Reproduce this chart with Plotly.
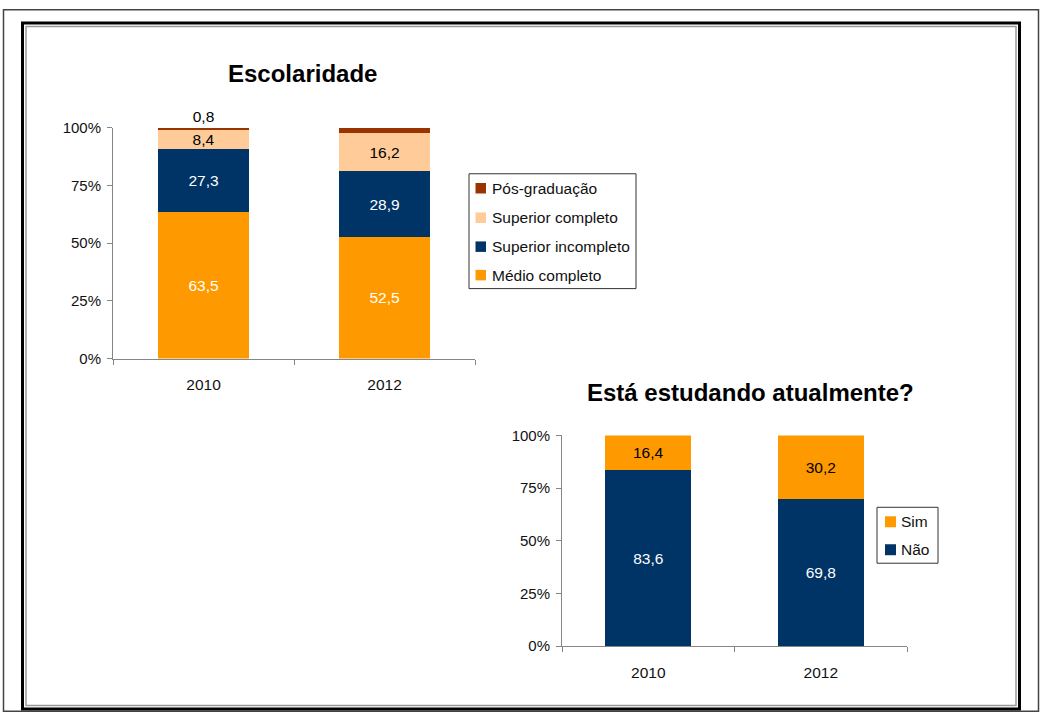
import plotly.graph_objects as go

W, H = 1041, 720
# the photographed page shows the figure squeezed into rows 8..712;
# target pixel rows are mapped back to figure rows through this.
SHOT_TOP, SHOT_H = 8, 704

# ---- data ----
anos = ["2010", "2012"]
medio_completo = [63.5, 52.5]
superior_incompleto = [27.3, 28.9]
superior_completo = [8.4, 16.2]
pos_graduacao = [0.8, 2.4]

estuda_nao = [83.6, 69.8]
estuda_sim = [16.4, 30.2]

y_ticks = [0, 25, 50, 75, 100]
y_tick_labels = ["0%", "25%", "50%", "75%", "100%"]

ORANGE = "#FF9900"
NAVY = "#003366"
PEACH = "#FFCC99"
BROWN = "#993300"
FONT = "Liberation Sans, Arial, sans-serif"


def fmt(vals):
    return [f"{v:.1f}".replace(".", ",") for v in vals]


def px_x(x):
    return x / W


def px_y(y):
    yf = (y - SHOT_TOP) * H / SHOT_H
    return (H - yf) / H


fig = go.Figure()

series1 = [
    ("Médio completo", medio_completo, ORANGE, "white", "inside"),
    ("Superior incompleto", superior_incompleto, NAVY, "white", "inside"),
    ("Superior completo", superior_completo, PEACH, "black", "inside"),
    ("Pós-graduação", pos_graduacao, BROWN, "black", "outside"),
]
for name, vals, col, tcol, tpos in series1:
    fig.add_trace(go.Bar(
        x=anos, y=vals, name=name, marker=dict(color=col, line=dict(width=0)),
        text=fmt(vals), textposition=tpos, insidetextanchor="middle",
        textfont=dict(color=tcol, size=15.5, family=FONT),
        outsidetextfont=dict(color="black", size=15.5, family=FONT),
        constraintext="none", cliponaxis=False, width=0.5,
        xaxis="x", yaxis="y", showlegend=False,
    ))

series2 = [
    ("Não", estuda_nao, NAVY, "white"),
    ("Sim", estuda_sim, ORANGE, "black"),
]
for name, vals, col, tcol in series2:
    fig.add_trace(go.Bar(
        x=anos, y=vals, name=name, marker=dict(color=col, line=dict(width=0)),
        text=fmt(vals), textposition="inside", insidetextanchor="middle",
        textfont=dict(color=tcol, size=15.5, family=FONT),
        constraintext="none", cliponaxis=False, width=0.5,
        xaxis="x2", yaxis="y2", showlegend=False,
    ))

axis_common = dict(
    showgrid=False, zeroline=False, showline=True, linecolor="#868686",
    linewidth=1, ticks="outside", ticklen=5, tickcolor="#868686",
    fixedrange=True,
)
xfont = dict(size=15.5, family=FONT, color="#111")
yfont = dict(size=15, family=FONT, color="#111")

shapes = [
    dict(type="rect", xref="paper", yref="paper", x0=px_x(3.5), x1=px_x(1038.5),
         y0=max(px_y(717.5), 0.001), y1=min(px_y(3.5), 0.999),
         line=dict(color="#444", width=1.5)),
    dict(type="rect", xref="paper", yref="paper", x0=px_x(22.5), x1=px_x(1019.5),
         y0=px_y(709), y1=px_y(22), line=dict(color="black", width=3)),
    dict(type="rect", xref="paper", yref="paper", x0=px_x(26), x1=px_x(1016),
         y0=px_y(705.5), y1=px_y(25.5), line=dict(color="#999", width=1.5)),
]
annotations = [
    dict(text="<b>Escolaridade</b>", x=px_x(302), y=px_y(73), xref="paper",
         yref="paper", showarrow=False, xanchor="center", yanchor="middle",
         font=dict(size=24, family=FONT, color="black")),
    dict(text="<b>Está estudando atualmente?</b>", x=px_x(750), y=px_y(392),
         xref="paper", yref="paper", showarrow=False, xanchor="center",
         yanchor="middle", font=dict(size=24, family=FONT, color="black")),
]


def add_legend(entries, box, sw_x0, sw_size, text_x, row_ys):
    x0, y0, x1, y1 = box
    shapes.append(dict(type="rect", xref="paper", yref="paper",
                       x0=px_x(x0), x1=px_x(x1), y0=px_y(y1), y1=px_y(y0),
                       line=dict(color="#333", width=1), fillcolor="white"))
    for (name, col), ry in zip(entries, row_ys):
        shapes.append(dict(type="rect", xref="paper", yref="paper",
                           x0=px_x(sw_x0), x1=px_x(sw_x0 + sw_size),
                           y0=px_y(ry + sw_size / 2), y1=px_y(ry - sw_size / 2),
                           line=dict(width=0), fillcolor=col))
        annotations.append(dict(text=name, x=px_x(text_x), y=px_y(ry),
                                xref="paper", yref="paper", showarrow=False,
                                xanchor="left", yanchor="middle",
                                font=dict(size=15.5, family=FONT, color="#111")))


leg1 = [(s[0], s[2]) for s in reversed(series1)]
add_legend(leg1, (469, 173, 636, 288), 475.5, 10.5, 490, [187.5, 217, 246, 274.5])
leg2 = [(s[0], s[2]) for s in reversed(series2)]
add_legend(leg2, (877, 507, 938, 563), 885, 11, 899, [521.5, 549.5])

fig.update_layout(
    width=W, height=H, margin=dict(l=0, r=0, t=0, b=0),
    paper_bgcolor="white", plot_bgcolor="white",
    barmode="stack", bargap=0.5, showlegend=False,
    font=dict(family=FONT, color="#111"),
    xaxis=dict(domain=[px_x(113), px_x(475)], anchor="y", type="category",
               tickson="boundaries", ticklabelstandoff=12, tickfont=xfont,
               **axis_common),
    yaxis=dict(domain=[px_y(358), px_y(127)], anchor="x", range=[0, 100],
               tickvals=y_ticks, ticktext=y_tick_labels, ticklabelstandoff=3,
               tickfont=yfont, **axis_common),
    xaxis2=dict(domain=[px_x(562), px_x(907)], anchor="y2", type="category",
                tickson="boundaries", ticklabelstandoff=12, tickfont=xfont,
                **axis_common),
    yaxis2=dict(domain=[px_y(646), px_y(435)], anchor="x2", range=[0, 100],
                tickvals=y_ticks, ticktext=y_tick_labels, ticklabelstandoff=3,
                tickfont=yfont, **axis_common),
    annotations=annotations,
    shapes=shapes,
)

fig.write_html(
    "out.html",
    config={"displayModeBar": False, "staticPlot": True},
    post_script="document.body.style.margin='0';document.body.style.overflow='hidden';",
)
